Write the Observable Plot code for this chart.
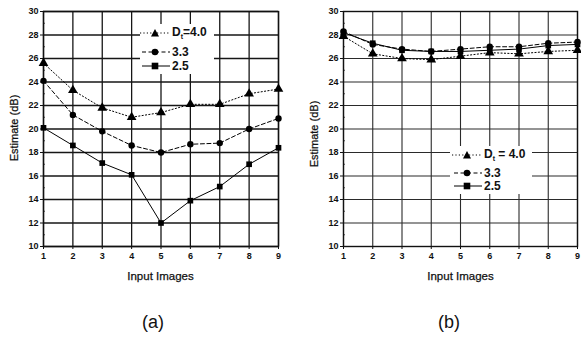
<!DOCTYPE html>
<html><head><meta charset="utf-8">
<script src="https://cdn.jsdelivr.net/npm/d3@7"></script>
<script src="https://cdn.jsdelivr.net/npm/@observablehq/plot@0.6"></script>
<style>
html,body{margin:0;padding:0;background:#fff;}
#wrap{position:relative;width:581px;height:340px;font-family:"Liberation Sans",Arial,sans-serif;overflow:hidden;}
.panel{position:absolute;top:0;}
.legend{position:absolute;background:#fff;}
.row{position:absolute;display:flex;align-items:center;height:14px;font-family:"Liberation Sans",Arial,sans-serif;font-size:12px;font-weight:bold;color:#111;white-space:nowrap;}
.row svg{margin-right:2px;}
.cap{position:absolute;font-family:"Liberation Sans",Arial,sans-serif;font-size:18px;color:#111;transform:translateX(-50%);line-height:20px;}
.xl{position:absolute;font-family:"Liberation Sans",Arial,sans-serif;font-size:11.5px;color:#111;transform:translateX(-50%);line-height:14px;-webkit-text-stroke:0.25px #111;white-space:nowrap;}
.yl{position:absolute;font-family:"Liberation Sans",Arial,sans-serif;font-size:11px;color:#111;line-height:14px;-webkit-text-stroke:0.25px #111;white-space:nowrap;transform:translate(-50%,-50%) rotate(-90deg);}
</style>
</head><body>
<div id="wrap"></div>
<script>
// ---- data ----
const inputImages = [1, 2, 3, 4, 5, 6, 7, 8, 9];
const yTicks = [10, 12, 14, 16, 18, 20, 22, 24, 26, 28, 30];
const minorTicks = [11, 13, 15, 17, 19, 21, 23, 25, 27, 29];
const seriesNames = ["4.0", "3.3", "2.5"];
// panel (a)
const a40 = [25.6, 23.3, 21.8, 21.0, 21.4, 22.1, 22.1, 23.0, 23.4];
const a33 = [24.1, 21.2, 19.8, 18.6, 18.0, 18.7, 18.8, 20.0, 20.9];
const a25 = [20.1, 18.6, 17.1, 16.1, 12.0, 13.9, 15.1, 17.0, 18.4];
// panel (b)
const b40 = [27.9, 26.4, 26.0, 25.9, 26.2, 26.5, 26.4, 26.6, 26.7];
const b33 = [28.3, 27.2, 26.8, 26.6, 26.8, 27.0, 27.0, 27.3, 27.4];
const b25 = [28.2, 27.3, 26.7, 26.6, 26.6, 26.7, 26.8, 27.1, 27.2];
const xLabel = "Input Images";
const yLabel = "Estimate (dB)";
const captions = ["(a)", "(b)"];

const styleOf = {
  "4.0": {dash: "1.2,2.2", symbol: "triangle", r: 3.6},
  "3.3": {dash: "4,2.5", symbol: "circle", r: 3.2},
  "2.5": {dash: null, symbol: "square", r: 3.2}
};

function rows(arrs) {
  const out = [];
  seriesNames.forEach((s, i) => inputImages.forEach((x, j) => out.push({s, x, y: arrs[i][j]})));
  return out;
}

function panel(arrs, ml, mr, gridColor, gridWidth) {
  const data = rows(arrs);
  const marks = [
    Plot.ruleX(inputImages, {x: d => d, stroke: gridColor, strokeWidth: gridWidth}),
    Plot.ruleY(yTicks, {y: d => d, stroke: gridColor, strokeWidth: gridWidth}),
    Plot.ruleY(minorTicks, {y: d => d, x1: 1, x2: 1.06, stroke: "#1a1a1a"}),
    Plot.frame({stroke: "#111", strokeWidth: 1.4})
  ];
  for (const s of seriesNames) {
    const st = styleOf[s];
    const sub = data.filter(d => d.s === s);
    marks.push(Plot.line(sub, {x: "x", y: "y", stroke: "#000", strokeWidth: 1, strokeDasharray: st.dash || undefined}));
    marks.push(Plot.dot(sub, {x: "x", y: "y", symbol: () => st.symbol, r: st.r, fill: "#000", stroke: "none"}));
  }
  return Plot.plot({
    width: 290, height: 290,
    marginLeft: ml, marginRight: mr, marginTop: 11, marginBottom: 44,
    style: {background: "transparent", fontFamily: "'Liberation Sans', Arial, sans-serif", fontSize: "9px", fontWeight: "bold", color: "#111", overflow: "visible"},
    x: {domain: [1, 9], ticks: inputImages, tickFormat: d => String(d), tickSize: 3, tickPadding: 3, label: null},
    y: {domain: [10, 30], ticks: yTicks, tickFormat: d => String(d), tickSize: 3, tickPadding: 2, label: null},
    symbol: {type: "identity"},
    marks
  });
}

const wrap = document.getElementById("wrap");
const pa = panel([a40, a33, a25], 43, 12, "#161616", 1.3);
pa.classList.add("panel"); pa.style.left = "0px";
wrap.appendChild(pa);
const pb = panel([b40, b33, b25], 53, 3, "#2a2a2a", 1.1);
pb.classList.add("panel"); pb.style.left = "290px";
wrap.appendChild(pb);

function markerSvg(s, lx1) {
  const st = styleOf[s];
  const dash = st.dash ? `stroke-dasharray="${st.dash}"` : "";
  let m;
  if (st.symbol === "triangle") m = `<path d="M15,1 L19,8.5 L11,8.5 Z" fill="#000"/>`;
  else if (st.symbol === "circle") m = `<circle cx="15" cy="5" r="3.3" fill="#000"/>`;
  else m = `<rect x="11.7" y="1.7" width="6.6" height="6.6" fill="#000"/>`;
  return `<svg width="30" height="10"><line x1="${lx1}" y1="5" x2="30" y2="5" stroke="#000" stroke-width="1" ${dash}/>${m}</svg>`;
}
function legend(box, rowLeft, rowYs, first) {
  const bg = document.createElement("div");
  bg.className = "legend";
  Object.assign(bg.style, {left: box[0] + "px", top: box[1] + "px", width: box[2] + "px", height: box[3] + "px"});
  wrap.appendChild(bg);
  seriesNames.forEach((s, i) => {
    const r = document.createElement("div");
    r.className = "row";
    r.style.left = rowLeft + "px"; r.style.top = (rowYs[i] - 7) + "px";
    r.innerHTML = `${markerSvg(s, i === 0 ? 0 : 2)}<span>${i === 0 ? first : s}</span>`;
    wrap.appendChild(r);
  });
}
legend([140, 24, 74, 50], 140, [33, 52, 66], "D<sub style='font-size:7px'>t</sub>=4.0");
legend([450, 146, 82, 48], 452, [155, 173, 186], "D<sub style='font-size:7px'>t</sub> = 4.0");

// axis titles
const centersX = [160.5, 460.5];
const yLabelPos = [[14, 128], [314, 134]];
for (let i = 0; i < 2; i++) {
  const xl = document.createElement("div");
  xl.className = "xl"; xl.textContent = xLabel;
  xl.style.left = centersX[i] + "px"; xl.style.top = "269px";
  wrap.appendChild(xl);
  const yl = document.createElement("div");
  yl.className = "yl"; yl.textContent = yLabel;
  yl.style.left = yLabelPos[i][0] + "px"; yl.style.top = yLabelPos[i][1] + "px";
  wrap.appendChild(yl);
  const c = document.createElement("div");
  c.className = "cap"; c.textContent = captions[i];
  c.style.left = [153, 449][i] + "px"; c.style.top = "312px";
  wrap.appendChild(c);
}
</script>
</body></html>
